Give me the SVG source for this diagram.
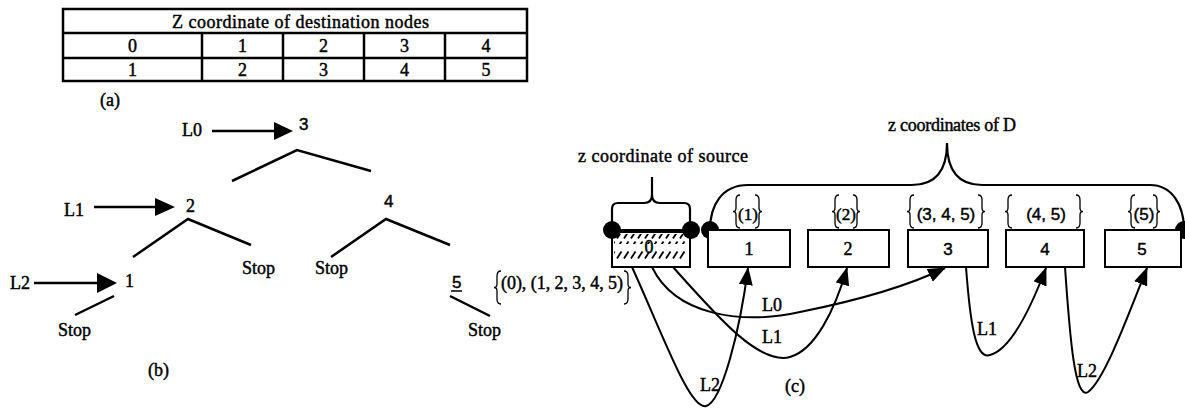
<svg xmlns="http://www.w3.org/2000/svg" width="1185" height="408" viewBox="0 0 1185 408">
<style>
text{font-family:"Liberation Serif","Times New Roman",serif;font-size:18px;fill:#000;stroke:#000;stroke-width:0.45}
.s{font-family:"Liberation Sans",Arial,sans-serif;font-size:17px}
.m{text-anchor:middle}
.ln{stroke:#000;stroke-width:2.5;fill:none}
.tb{stroke:#000;stroke-width:2.5;fill:none}
.box{stroke:#000;stroke-width:2;fill:#fff}
.cv{stroke:#000;stroke-width:2;fill:none;marker-end:url(#ah)}
.br{stroke:#000;stroke-width:1.3;fill:none}
.bb{stroke:#000;stroke-width:2.2;fill:none}
</style>
<defs>
<marker id="ah" markerUnits="userSpaceOnUse" markerWidth="20" markerHeight="16" refX="17" refY="7" orient="auto">
<path d="M0,0 L18,7 L0,14 Z" fill="#000"/>
</marker>
<path id="lb" d="M7,0 Q3,0 3,5 L3,13 Q3,16.5 0,16.5 Q3,16.5 3,20 L3,28 Q3,33 7,33"/>
<path id="rb" d="M0,0 Q4,0 4,5 L4,13 Q4,16.5 7,16.5 Q4,16.5 4,20 L4,28 Q4,33 0,33"/>
<pattern id="hatch" width="7" height="10" patternUnits="userSpaceOnUse">
<line x1="1" y1="8.5" x2="5.5" y2="1.5" stroke="#000" stroke-width="1.8"/>
</pattern>
</defs>

<g id="table">
<rect x="63" y="9" width="464" height="72" class="tb"/>
<line x1="63" y1="33" x2="527" y2="33" class="tb"/>
<line x1="63" y1="58" x2="527" y2="58" class="tb"/>
<line x1="202" y1="33" x2="202" y2="81" class="tb"/>
<line x1="283" y1="33" x2="283" y2="81" class="tb"/>
<line x1="364" y1="33" x2="364" y2="81" class="tb"/>
<line x1="445" y1="33" x2="445" y2="81" class="tb"/>
<text x="300.5" y="28" class="m" textLength="257" lengthAdjust="spacing">Z coordinate of destination nodes</text>
<text x="132.5" y="52" class="m">0</text>
<text x="242.5" y="52" class="m">1</text>
<text x="323.5" y="52" class="m">2</text>
<text x="404.5" y="52" class="m">3</text>
<text x="486" y="52" class="m">4</text>
<text x="132.5" y="76" class="m">1</text>
<text x="242.5" y="76" class="m">2</text>
<text x="323.5" y="76" class="m">3</text>
<text x="404.5" y="76" class="m">4</text>
<text x="486" y="76" class="m">5</text>
<text x="100" y="106">(a)</text>
</g>

<g id="tree">
<g id="t-L0"><text x="182" y="136">L0</text>
<line x1="212" y1="131" x2="276" y2="131" class="ln"/><polygon points="274,122 293,131 274,140"/></g>
<g id="t-3"><text x="299" y="130" class="s">3</text>
<polyline points="232,181 297,150 371,171" class="ln"/></g>
<g id="t-L1"><text x="64" y="216">L1</text>
<line x1="94" y1="207" x2="157" y2="207" class="ln"/><polygon points="155,198 175,207 155,216"/></g>
<g id="t-2"><text x="186" y="212">2</text>
<polyline points="133,257 188,219 251,245" class="ln"/></g>
<text x="242" y="274">Stop</text>
<g id="t-4"><text x="384" y="207" class="s">4</text>
<polyline points="331,257 386,219 450,245" class="ln"/></g>
<text x="315" y="274">Stop</text>
<g id="t-L2"><text x="10" y="289">L2</text>
<line x1="34" y1="283" x2="99" y2="283" class="ln"/><polygon points="97,273 117,283 97,293"/></g>
<g id="t-1"><text x="125" y="287">1</text>
<line x1="114" y1="296" x2="75" y2="315" class="ln"/></g>
<text x="58" y="336">Stop</text>
<g id="t-5"><text x="452" y="288" class="s">5</text>
<line x1="451" y1="291" x2="462" y2="291" stroke="#000" stroke-width="1.5"/>
<line x1="450" y1="296" x2="490" y2="316" class="ln"/></g>
<text x="468" y="336">Stop</text>
<use href="#lb" x="494" y="271" class="br"/>
<text x="501" y="289" textLength="122" lengthAdjust="spacing">(0), (1, 2, 3, 4, 5)</text>
<use href="#rb" x="624" y="271" class="br"/>
<text x="148" y="376">(b)</text>
</g>

<g id="source">
<text x="578" y="162" textLength="170" lengthAdjust="spacing">z coordinate of source</text>
<path d="M612,230 L612,209 Q612,203 618,203 L644,203 Q652,203 652,195 L652,177 L652,195 Q652,203 660,203 L684,203 Q690,203 690,209 L690,230" class="bb"/>
<rect x="612" y="230" width="78" height="37" class="box"/>
<line x1="612" y1="231" x2="690" y2="231" stroke="#000" stroke-width="4"/>
<text x="649" y="253" class="m">0</text>
<rect x="614" y="234" width="72" height="10" fill="url(#hatch)"/>
<rect x="614" y="250" width="72" height="10" fill="url(#hatch)"/>
<circle cx="612" cy="230" r="9"/>
<circle cx="691" cy="230" r="9"/>
</g>

<g id="dest-brace">
<text x="952" y="131" class="m" textLength="128" lengthAdjust="spacing">z coordinates of D</text>
<path d="M710,230 C710,205 722,185 748,185 L912,185 Q947,185 947,143 Q947,185 982,185 L1150,185 C1172,185 1184,205 1184,230" class="bb"/>
<circle cx="710" cy="230" r="9"/>
<circle cx="1184" cy="230" r="9"/>
</g>

<g id="box1">
<rect x="708" y="230" width="82" height="37" class="box"/>
<text x="749" y="255" class="m">1</text>
<use href="#lb" x="733" y="195" class="br"/><use href="#rb" x="755" y="195" class="br"/>
<text x="748" y="220" class="m" style="font-size:17px">(1)</text>
</g>
<g id="box2">
<rect x="808" y="230" width="81" height="37" class="box"/>
<text x="848" y="255" class="m">2</text>
<use href="#lb" x="832" y="195" class="br"/><use href="#rb" x="853" y="195" class="br"/>
<text x="846" y="220" class="m" style="font-size:17px">(2)</text>
</g>
<g id="box3">
<rect x="908" y="230" width="80" height="37" class="box"/>
<text x="948" y="255" class="m s">3</text>
<use href="#lb" x="907" y="195" class="br"/><use href="#rb" x="978" y="195" class="br"/>
<text x="946" y="220" class="m s">(3, 4, 5)</text>
</g>
<g id="box4">
<rect x="1006" y="230" width="78" height="37" class="box"/>
<text x="1045" y="255" class="m s">4</text>
<use href="#lb" x="1005" y="195" class="br"/><use href="#rb" x="1076" y="195" class="br"/>
<text x="1046" y="220" class="m s">(4, 5)</text>
</g>
<g id="box5">
<rect x="1105" y="230" width="76" height="37" class="box"/>
<text x="1142" y="255" class="m s">5</text>
<use href="#lb" x="1128" y="195" class="br"/><use href="#rb" x="1153" y="195" class="br"/>
<text x="1144" y="220" class="m s">(5)</text>
</g>

<g id="connectors">
<path d="M632,267 C665,340 690,410 706,406 C722,402 740,330 748,268" class="cv"/>
<path d="M652,267 C675,315 740,325 800,312 C860,300 910,285 945,268" class="cv"/>
<path d="M673,267 C720,320 760,365 790,357 C815,350 835,310 847,268" class="cv"/>
<path d="M966,267 C970,320 975,360 990,355 C1010,350 1030,310 1046,268" class="cv"/>
<path d="M1065,267 C1070,340 1075,400 1088,392 C1105,380 1130,310 1147,268" class="cv"/>
<text x="762" y="311">L0</text>
<text x="762" y="343">L1</text>
<text x="700" y="391">L2</text>
<text x="977" y="335">L1</text>
<text x="1077" y="377">L2</text>
<text x="785" y="392">(c)</text>
</g>
</svg>
